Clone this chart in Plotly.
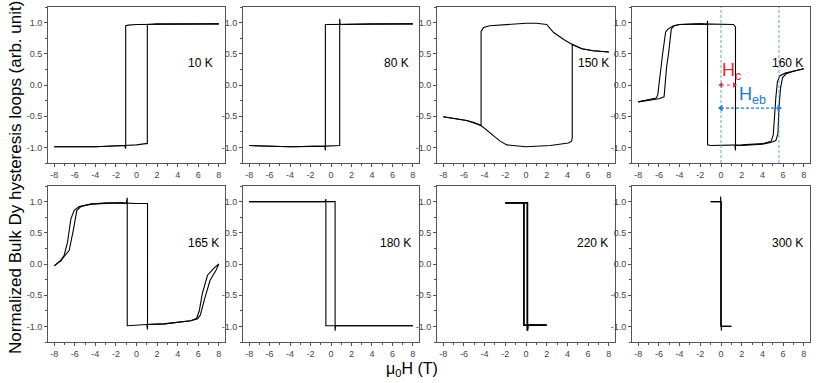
import plotly.graph_objects as go

# normalised Dy magnetisation vs field (T); each loop = descending + ascending branch
temps = ["10 K", "80 K", "150 K", "160 K", "165 K", "180 K", "220 K", "300 K"]

h_10_down = [8, 4, 1.1, 0, -0.8, -1.05, -1.05, -1.15, -4, -8]
m_10_down = [0.98, 0.98, 0.98, 0.97, 0.96, 0.95, -1.02, -0.97, -0.99, -0.99]
h_10_up = [-8, -4, -1.2, 0, 0.9, 1.05, 1.05, 2, 8]
m_10_up = [-0.99, -0.99, -0.97, -0.96, -0.94, -0.94, 0.97, 0.98, 0.98]

h_80_down = [8, 2, 0.85, 0, -0.55, -0.55, -0.6, -4, -8]
m_80_down = [0.98, 0.98, 0.98, 0.97, 0.97, -1.05, -0.98, -0.99, -0.97]
h_80_up = [-8, -4, -0.55, 0, 0.85, 0.85, 0.9, 4, 8]
m_80_up = [-0.97, -0.99, -0.98, -0.98, -0.97, 1.06, 0.97, 0.98, 0.98]

h_150_down = [8, 6.5, 5.4, 4.47, 3.65, 2.67, 2.0, 1.0, 0, -2, -3.5, -4.1, -4.34, -4.34, -5, -5.74, -8]
m_150_down = [0.53, 0.55, 0.58, 0.65, 0.73, 0.84, 0.97, 0.99, 0.99, 0.97, 0.95, 0.92, 0.86, -0.65, -0.6, -0.57, -0.51]
h_150_up = [-8, -5.74, -4.34, -3.47, -2.5, -1.86, 0, 2.35, 4.1, 4.4, 4.47, 4.47, 5.4, 6.5, 8]
m_150_up = [-0.51, -0.57, -0.65, -0.77, -0.9, -0.96, -0.99, -0.97, -0.93, -0.9, -0.85, 0.65, 0.58, 0.55, 0.53]

h_160_down = [8, 7, 6.2, 5.7, 5.45, 5.3, 5.2, 5.05, 4.85, 4, 2, 0, -1.0, -1.3, -1.3, -1.35, -2, -3, -4,
              -4.6, -5.1, -5.35, -5.5, -5.64, -6.0, -6.1, -6.25, -7, -8]
m_160_down = [0.26, 0.22, 0.19, 0.15, 0.05, -0.2, -0.5, -0.8, -0.9, -0.94, -0.96, -0.97, -0.97, -0.96, 1.03, 0.97,
              0.98, 0.98, 0.97, 0.95, 0.9, 0.85, 0.7, 0.5, 0.0, -0.15, -0.21, -0.24, -0.27]
h_160_up = [-8, -7, -6, -5.5, -5.4, -5.25, -5.07, -4.9, -4.8, -4.5, -4, -2, 0, 1.2, 1.4, 1.4, 1.35, 2, 4,
            4.8, 5.3, 5.5, 5.6, 5.75, 5.95, 6.3, 7.0, 8]
m_160_up = [-0.27, -0.25, -0.22, -0.19, 0.0, 0.3, 0.5, 0.8, 0.9, 0.95, 0.97, 0.98, 0.98, 0.97, 0.93, -1.05, -0.97,
            -0.97, -0.95, -0.92, -0.89, -0.78, -0.37, -0.05, 0.12, 0.18, 0.22, 0.26]

h_165_down = [8, 7.5, 6.9, 6.4, 6.1, 5.85, 5.27, 4, 2.7, 1.0, 0, -0.55, -0.9, -0.9, -1.0, -1.5, -3, -4.44,
              -5.57, -6.06, -6.38, -6.7, -7.03, -7.35, -8]
m_165_down = [0.0, -0.07, -0.18, -0.47, -0.75, -0.87, -0.91, -0.94, -0.96, -0.97, -0.98, -0.99, -0.99, 1.06,
              0.97, 0.98, 0.98, 0.96, 0.92, 0.86, 0.72, 0.35, 0.14, 0.06, -0.03]
h_165_up = [-8, -7.35, -7.03, -6.54, -6.12, -5.8, -5.4, -4.44, -3, -1.5, 0, 0.9, 1.07, 1.07, 1.0, 2.7, 4,
            5.27, 5.9, 6.2, 6.63, 7.15, 7.7, 8]
m_165_up = [-0.03, 0.05, 0.12, 0.22, 0.56, 0.86, 0.92, 0.96, 0.97, 0.98, 0.97, 0.97, 0.97, -1.05, -0.97, -0.96,
            -0.94, -0.91, -0.88, -0.82, -0.55, -0.26, -0.11, 0.0]

h_180_down = [8, 4, 0.4, 0, -0.5, -0.5, -0.6, -4, -8]
m_180_down = [-0.99, -0.99, -0.99, -0.99, -0.99, 1.04, 1.0, 1.0, 1.0]
h_180_up = [-8, -4, 0, 0.4, 0.4, 0.45, 4, 8]
m_180_up = [1.0, 1.0, 1.0, 1.0, -1.07, -0.99, -0.99, -0.99]

h_220_down = [2, 1, 0, -0.2, -0.2, -1, -2]
m_220_down = [-0.98, -0.98, -0.98, -0.98, 0.98, 0.98, 0.98]
h_220_up = [-2, -1, 0, 0.13, 0.13, 0.2, 1, 2]
m_220_up = [0.98, 0.98, 0.98, 0.98, -1.07, -0.98, -0.98, -0.98]

h_300_down = [1, 0.5, 0.0, -0.03, -0.03, -0.05, -0.5, -1]
m_300_down = [-1.0, -1.0, -1.0, -1.0, 1.08, 1.0, 1.0, 1.0]
h_300_up = [-1, -0.5, 0.0, 0.03, 0.03, 0.05, 0.5, 1]
m_300_up = [1.0, 1.0, 1.0, 1.0, -1.07, -1.0, -1.0, -1.0]

loops = [
    (h_10_down, m_10_down, h_10_up, m_10_up),
    (h_80_down, m_80_down, h_80_up, m_80_up),
    (h_150_down, m_150_down, h_150_up, m_150_up),
    (h_160_down, m_160_down, h_160_up, m_160_up),
    (h_165_down, m_165_down, h_165_up, m_165_up),
    (h_180_down, m_180_down, h_180_up, m_180_up),
    (h_220_down, m_220_down, h_220_up, m_220_up),
    (h_300_down, m_300_down, h_300_up, m_300_up),
]
label_x = [7.6, 7.8, 8.2, 8.1, 8.2, 8.0, 8.1, 8.1]
label_y = [0.35, 0.35, 0.35, 0.36, 0.33, 0.33, 0.33, 0.33]

x_ticks = [-8, -6, -4, -2, 0, 2, 4, 6, 8]
x_ticklabels = ["-8", "-6", "-4", "-2", "0", "2", "4", "6", "8"]
y_ticks = [-1.0, -0.5, 0.0, 0.5, 1.0]
y_ticklabels = ["-1.0", "-0.5", "0.0", "0.5", "1.0"]

# 160 K exchange-bias annotation
h_c = 1.3
h_eb = 5.6
m_eb = -0.37

W, H = 831, 383
col_px = [(48, 225), (243, 419), (437, 615), (632, 810)]
row_px = [(7, 163), (186, 342)]

fig = go.Figure()
layout = {}
for i, (hd, md, hu, mu) in enumerate(loops):
    n = i + 1
    ax = "" if n == 1 else str(n)
    r, c = divmod(i, 4)
    for hx, my in ((hd, md), (hu, mu)):
        fig.add_trace(go.Scatter(x=hx, y=my, mode="lines", xaxis="x" + ax, yaxis="y" + ax,
                                 line=dict(color="black", width=1.1 if i != 6 else 1.8),
                                 showlegend=False, hoverinfo="skip"))
    x0, x1 = col_px[c]
    y0, y1 = row_px[r]
    layout["xaxis" + ax] = dict(
        domain=[x0 / W, x1 / W], anchor="y" + ax, range=[-8.6, 8.6],
        tickvals=x_ticks, ticktext=x_ticklabels, ticks="outside", ticklen=3, tickcolor="#555",
        minor=dict(dtick=1, ticks="outside", ticklen=2, tickcolor="#555"),
        showline=True, mirror=True, linecolor="#555", linewidth=1,
        showgrid=False, zeroline=False, tickfont=dict(size=9, color="#444"))
    layout["yaxis" + ax] = dict(
        domain=[1 - y1 / H, 1 - y0 / H], anchor="x" + ax, range=[-1.25, 1.25],
        tickvals=y_ticks, ticktext=y_ticklabels, ticks="outside", ticklen=3, tickcolor="#555",
        minor=dict(dtick=0.25, ticks="outside", ticklen=2, tickcolor="#555"),
        showline=True, mirror=True, linecolor="#555", linewidth=1,
        showgrid=False, zeroline=False, tickfont=dict(size=9, color="#444"))

annotations = []
for i, t in enumerate(temps):
    ax = "" if i == 0 else str(i + 1)
    annotations.append(dict(x=label_x[i], y=label_y[i], xref="x" + ax, yref="y" + ax, text=t,
                            showarrow=False, xanchor="right", font=dict(size=12, color="black")))

# Hc and Heb arrows on the 160 K panel
fig.add_trace(go.Scatter(x=[0, h_c], y=[0, 0], xaxis="x4", yaxis="y4", mode="lines+markers",
                         line=dict(color="#e8262a", width=1.2, dash="dot"),
                         marker=dict(symbol=["triangle-left", "triangle-right"], size=5, color="#e8262a"),
                         showlegend=False, hoverinfo="skip"))
fig.add_trace(go.Scatter(x=[0, h_eb], y=[m_eb, m_eb], xaxis="x4", yaxis="y4", mode="lines+markers",
                         line=dict(color="#1a7ad4", width=1.2, dash="3px,2px"),
                         marker=dict(symbol=["triangle-left", "triangle-right"], size=6, color="#1a7ad4"),
                         showlegend=False, hoverinfo="skip"))
shapes = [dict(type="line", xref="x4", yref="y4 domain", x0=v, x1=v, y0=0, y1=1,
               line=dict(color="#3b8fd9", width=0.8, dash="3px,2px")) for v in (0, h_eb)]
annotations.append(dict(x=-0.1, y=0.22, xref="x4", yref="y4", text="H<sub>c</sub>", showarrow=False,
                        xanchor="left", font=dict(size=18, color="#e8262a")))
annotations.append(dict(x=1.5, y=-0.17, xref="x4", yref="y4", text="H<sub>eb</sub>", showarrow=False,
                        xanchor="left", font=dict(size=18, color="#1a7ad4")))

annotations.append(dict(x=15 / W, y=1 - 178 / H, xref="paper", yref="paper",
                        xanchor="center", yanchor="middle",
                        text="Normalized Bulk Dy hysteresis loops (arb. unit)", textangle=-90,
                        showarrow=False, font=dict(size=17, color="black")))
annotations.append(dict(x=412 / W, y=1 - 369 / H, xref="paper", yref="paper",
                        xanchor="center", yanchor="middle",
                        text="μ<sub>0</sub>H (T)", showarrow=False, font=dict(size=16, color="black")))

fig.update_layout(
    width=W, height=H, margin=dict(l=0, r=0, t=0, b=0),
    plot_bgcolor="white", paper_bgcolor="white",
    font=dict(family="Liberation Sans, Arial, sans-serif"),
    annotations=annotations, shapes=shapes, **layout)

# drop the default page margin so the figure sits at the window corner
fig.write_html("out.html", config={"displayModeBar": False},
               post_script="document.body.style.margin='0';")
